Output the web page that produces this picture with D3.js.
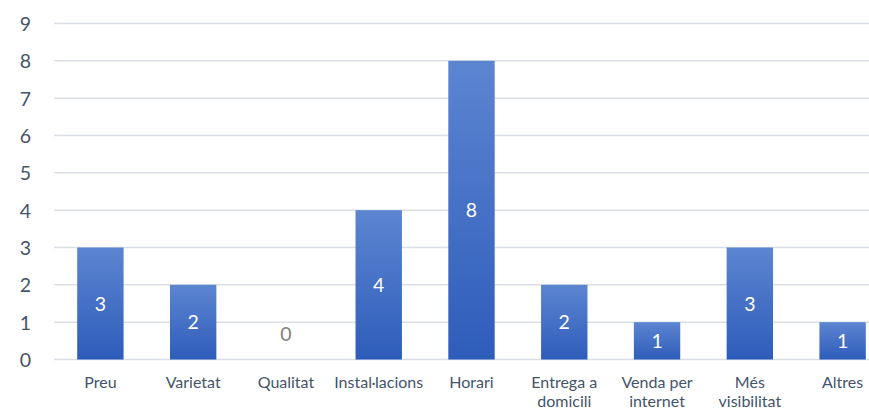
<!DOCTYPE html>
<html><head><meta charset="utf-8">
<script src="https://cdn.jsdelivr.net/npm/d3@7"></script>
<style>body{margin:0;background:#fff}svg{display:block}</style>
</head><body>
<script>
const categories = ["Preu","Varietat","Qualitat","Instal·lacions","Horari","Entrega a domicili","Venda per internet","Més visibilitat","Altres"];
const categoryLines = [["Preu"],["Varietat"],["Qualitat"],["Instal·lacions"],["Horari"],["Entrega a","domicili"],["Venda per","internet"],["Més","visibilitat"],["Altres"]];
const values = [3,2,0,4,8,2,1,3,1];
const yTicks = [0,1,2,3,4,5,6,7,8,9];

const W = 869, H = 409;
const svg = d3.select("body").append("svg").attr("width", W).attr("height", H);
const font = "Lato, 'Open Sans', sans-serif";

const x = d3.scaleBand().domain(categories).range([54, 889]).paddingInner(0.5).paddingOuter(0.25);
const y = d3.scaleLinear().domain([0, 9]).range([359.5, 23.5]);

const defs = svg.append("defs");
const g = defs.append("linearGradient").attr("id","bg").attr("x1",0).attr("y1",0).attr("x2",0).attr("y2",1);
g.append("stop").attr("offset","0%").attr("stop-color","#5c85d1");
g.append("stop").attr("offset","100%").attr("stop-color","#2e5cba");

// gridlines
svg.append("g").selectAll("line").data(yTicks).join("line")
  .attr("x1", 54).attr("x2", 889)
  .attr("y1", d => y(d)).attr("y2", d => y(d))
  .attr("stroke", "#d9dde4").attr("stroke-width", 1.5);

// y axis labels
const yAxis = d3.axisLeft(y).tickValues(yTicks).tickSize(0).tickPadding(0);
const ya = svg.append("g").attr("transform","translate(31,0)").call(yAxis);
ya.select(".domain").remove();
ya.selectAll("text").attr("fill","#44546a").attr("font-family",font).attr("font-size",19.5).attr("dy","0.36em");

// bars
svg.append("g").selectAll("rect").data(values).join("rect")
  .attr("x", (d,i) => x(categories[i]))
  .attr("width", x.bandwidth())
  .attr("y", d => y(d))
  .attr("height", d => y(0) - y(d))
  .attr("fill", "url(#bg)");

// value labels
svg.append("g").selectAll("text").data(values).join("text")
  .attr("x", (d,i) => x(categories[i]) + x.bandwidth()/2)
  .attr("y", d => d > 0 ? (y(d) + y(0))/2 : y(0) - 26)
  .attr("dy","0.36em")
  .attr("text-anchor","middle")
  .attr("font-family",font).attr("font-size",19.5)
  .attr("fill", d => d > 0 ? "#ffffff" : "#808080")
  .text(d => d);

// category labels
const cl = svg.append("g").selectAll("text").data(categoryLines).join("text")
  .attr("text-anchor","middle")
  .attr("font-family",font).attr("font-size",16)
  .attr("fill","#44546a")
  .attr("transform",(d,i) => `translate(${x(categories[i]) + x.bandwidth()/2},388)`);
cl.selectAll("tspan").data(d => d).join("tspan")
  .attr("x",0).attr("y",(d,j) => j*19).text(d => d);
</script>
</body></html>
